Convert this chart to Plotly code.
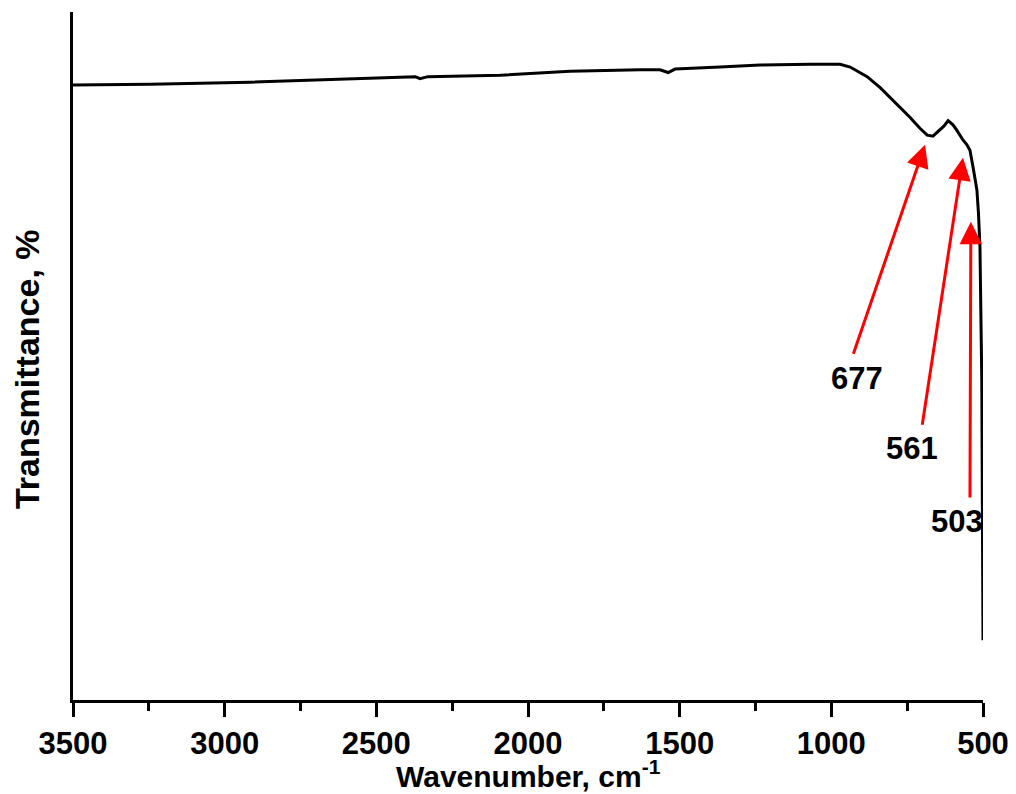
import plotly.graph_objects as go

# FTIR spectrum (wavenumber in cm^-1, transmittance in arbitrary %)
wavenumber = [3500, 3246, 2916, 2587, 2372, 2356, 2330, 2092, 1861, 1631, 1565, 1538,
              1515, 1367, 1235, 1070, 971, 938, 882, 839, 797, 741, 708, 684, 665,
              642, 629, 615, 599, 586, 566, 553, 543, 533, 520, 515, 510, 504, 500]
transmittance = [89.4, 89.5, 89.8, 90.3, 90.6, 90.3, 90.6, 90.8, 91.4, 91.6, 91.6, 91.2,
                 91.7, 92.0, 92.3, 92.4, 92.4, 92.0, 90.6, 89.0, 87.2, 84.7, 83.1, 82.1, 81.95,
                 82.8, 83.4, 84.2, 83.6, 82.8, 81.4, 80.7, 79.9, 77.5, 74.1, 70.8, 65.8, 46.5, 8.7]

# peak labels and their arrow geometry (tip / tail / text in data units)
peak_labels = ["677", "561", "503"]
arrow_tip_x = [691, 566, 540]
arrow_tip_y = [80.7, 78.8, 69.5]
arrow_tail_x = [929, 701, 543]
arrow_tail_y = [50.1, 39.8, 29.2]
label_x = [915, 734, 586]
label_y = [46.7, 36.6, 25.9]

x_ticks = [3500, 3000, 2500, 2000, 1500, 1000, 500]
x_title = "<b>Wavenumber, cm<sup>-1</sup></b>"
y_title = "<b>Transmittance, %</b>"

FONT = "Liberation Sans, Arial"

fig = go.Figure()
fig.add_trace(go.Scatter(x=wavenumber, y=transmittance, mode="lines",
                         line=dict(color="black", width=3), showlegend=False))

annotations = []
for lab, tx, ty, ax, ay, lx, ly in zip(peak_labels, arrow_tip_x, arrow_tip_y,
                                       arrow_tail_x, arrow_tail_y, label_x, label_y):
    annotations.append(dict(x=tx, y=ty, ax=ax, ay=ay, xref="x", yref="y",
                            axref="x", ayref="y", text="", showarrow=True,
                            arrowhead=2, arrowsize=1.5, arrowwidth=3, arrowcolor="red"))
    annotations.append(dict(x=lx, y=ly, xref="x", yref="y", text=f"<b>{lab}</b>",
                            showarrow=False, font=dict(size=31, color="black", family=FONT)))

annotations.append(dict(x=0.5, y=0, xref="paper", yref="paper", yshift=-74,
                        text=x_title, showarrow=False, yanchor="middle",
                        font=dict(size=30, color="black", family=FONT)))
annotations.append(dict(x=-0.0505, y=0.481, xref="paper", yref="paper",
                        text=y_title, textangle=-90, showarrow=False,
                        xanchor="center", yanchor="middle",
                        font=dict(size=34, color="black", family=FONT)))

# the page body adds an 8px offset, so the figure is sized/margined to compensate
fig.update_layout(
    width=1008, height=786,
    margin=dict(l=65, r=33, t=4, b=94),
    paper_bgcolor="white", plot_bgcolor="white",
    font=dict(family=FONT, color="black"),
    annotations=annotations,
    xaxis=dict(range=[3500, 500], tickvals=x_ticks,
               ticktext=[f"<b>{v}</b>" for v in x_ticks],
               showline=True, linecolor="black", linewidth=3, mirror=False,
               ticks="outside", ticklen=14, tickwidth=3, tickcolor="black",
               minor=dict(dtick=250, tick0=500, ticks="outside", ticklen=8,
                          tickwidth=3, tickcolor="black", showgrid=False),
               showgrid=False, zeroline=False, automargin=False,
               tickfont=dict(size=31, color="black")),
    yaxis=dict(range=[0, 100], showline=True, linecolor="black", linewidth=3,
               showticklabels=False, ticks="", showgrid=False, zeroline=False,
               automargin=False),
)

fig.write_html("out.html")
